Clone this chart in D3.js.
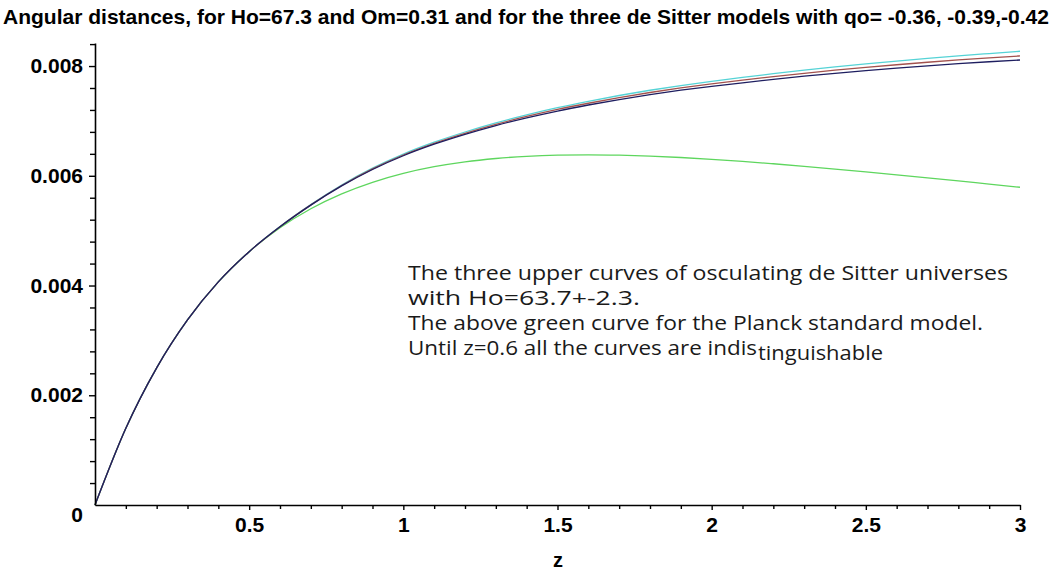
<!DOCTYPE html>
<html>
<head>
<meta charset="utf-8">
<script src="https://cdn.jsdelivr.net/npm/d3@7/dist/d3.min.js"></script>
<style>
  html, body { margin: 0; padding: 0; background: #ffffff; }
  svg { display: block; }
</style>
</head>
<body>
<svg id="chart" width="1055" height="571"></svg>
<script>
// ---------------- data ----------------
const titleText = "Angular distances, for Ho=67.3 and Om=0.31 and for the three de Sitter models with qo= -0.36, -0.39,-0.42";
const xLabel = "z";

const zValues = [0,0.1,0.2,0.3,0.4,0.5,0.6,0.7,0.8,0.9,1.0,1.1,1.2,1.3,1.4,1.5,1.6,1.7,1.8,1.9,2.0,2.1,2.2,2.3,2.4,2.5,2.6,2.7,2.8,2.9,3.0];

// green: Planck standard model
const planck = [0,0.001398,0.002500,0.003373,0.004066,0.004617,0.005053,0.005399,0.005670,0.005881,0.006043,
  0.006165,0.006254,0.006315,0.006355,0.006376,0.006382,0.006375,0.006358,0.006333,0.006300,
  0.006262,0.006219,0.006173,0.006123,0.006071,0.006017,0.005962,0.005906,0.005848,0.005791];

// three osculating de Sitter curves
const deSitterCyan = [0,0.001398,0.002500,0.003373,0.004066,0.004617,0.005074,0.005475,0.005832,0.006139,0.006396,
  0.006612,0.006798,0.006964,0.007110,0.007241,0.007357,0.007463,0.007559,0.007645,0.007721,
  0.007792,0.007860,0.007924,0.007983,0.008038,0.008090,0.008139,0.008185,0.008228,0.008270];
const deSitterBrown = [0,0.001398,0.002500,0.003373,0.004066,0.004617,0.005072,0.005470,0.005823,0.006126,0.006379,
  0.006592,0.006775,0.006938,0.007081,0.007209,0.007322,0.007425,0.007518,0.007601,0.007674,
  0.007742,0.007807,0.007868,0.007924,0.007976,0.008024,0.008069,0.008111,0.008149,0.008184];
const deSitterNavy = [0,0.001398,0.002500,0.003373,0.004066,0.004617,0.005070,0.005465,0.005815,0.006115,0.006365,
  0.006575,0.006755,0.006915,0.007055,0.007180,0.007290,0.007390,0.007480,0.007560,0.007630,
  0.007695,0.007757,0.007815,0.007868,0.007917,0.007962,0.008004,0.008043,0.008078,0.008110];

const xTicks = [0.5,1,1.5,2,2.5,3];
const xTickLabels = ["0.5","1","1.5","2","2.5","3"];
const xMinorTicks = [0.1,0.2,0.3,0.4,0.6,0.7,0.8,0.9,1.1,1.2,1.3,1.4,1.6,1.7,1.8,1.9,2.1,2.2,2.3,2.4,2.6,2.7,2.8,2.9];
const yTicks = [0.002,0.004,0.006,0.008];
const yTickLabels = ["0.002","0.004","0.006","0.008"];
const yMinorTicks = [0.0004,0.0008,0.0012,0.0016,0.0024,0.0028,0.0032,0.0036,0.0044,0.0048,0.0052,0.0056,0.0064,0.0068,0.0072,0.0076,0.0084];

const noteLines = [
  "The three upper curves of osculating de Sitter universes",
  "with Ho=63.7+-2.3.",
  "The above green curve for the Planck standard model.",
  "Until z=0.6 all the curves are indis"
];
const noteTail = "tinguishable";

// ---------------- drawing ----------------
const svg = d3.select("#chart");
const x = d3.scaleLinear().domain([0, 3]).range([95, 1020]);
const y = d3.scaleLinear().domain([0, 0.00842]).range([505, 43]);

const labelFont = "'Liberation Sans', Arial, sans-serif";

// title
svg.append("text")
  .attr("x", 3).attr("y", 24)
  .attr("textLength", 1046).attr("lengthAdjust", "spacingAndGlyphs")
  .style("font-family", labelFont).style("font-weight", "bold").style("font-size", "21px")
  .attr("fill", "#000")
  .text(titleText);

// curves
const series = [
  { values: planck, color: "#5ed65e" },
  { values: deSitterCyan, color: "#55d3d6" },
  { values: deSitterBrown, color: "#a2524e" },
  { values: deSitterNavy, color: "#1e1e60" }
];
const line = d3.line()
  .x((d, i) => x(zValues[i]))
  .y(d => y(d))
  .curve(d3.curveMonotoneX);

svg.append("g").selectAll("path").data(series).join("path")
  .attr("d", s => line(s.values))
  .attr("fill", "none")
  .attr("stroke", s => s.color)
  .attr("stroke-width", 1.3);

// axes
const xAxisG = svg.append("g").attr("transform", "translate(0,505)");
xAxisG.call(d3.axisBottom(x).tickValues(xTicks).tickSize(5).tickSizeOuter(0).tickPadding(7)
  .tickFormat((d, i) => xTickLabels[i]));
const xMinorG = svg.append("g").attr("transform", "translate(0,505)");
xMinorG.call(d3.axisBottom(x).tickValues(xMinorTicks).tickSize(4).tickFormat(""));
xMinorG.select(".domain").remove();

const yAxisG = svg.append("g").attr("transform", "translate(95,0)");
yAxisG.call(d3.axisLeft(y).tickValues(yTicks).tickSize(6).tickSizeOuter(0).tickPadding(6)
  .tickFormat((d, i) => yTickLabels[i]));
const yMinorG = svg.append("g").attr("transform", "translate(95,0)");
yMinorG.call(d3.axisLeft(y).tickValues(yMinorTicks).tickSize(5).tickFormat(""));
yMinorG.select(".domain").remove();

svg.selectAll(".domain").attr("stroke", "#000").attr("stroke-width", 1.6);
svg.selectAll(".tick line").attr("stroke", "#000").attr("stroke-width", 1.4);
svg.selectAll(".tick text")
  .style("font-family", labelFont).style("font-weight", "bold").style("font-size", "21px")
  .attr("fill", "#000");

// origin label
svg.append("text")
  .attr("x", 77).attr("y", 522).attr("text-anchor", "middle")
  .style("font-family", labelFont).style("font-weight", "bold").style("font-size", "21px")
  .text("0");

// x label
svg.append("text")
  .attr("x", 558).attr("y", 567).attr("text-anchor", "middle")
  .style("font-family", labelFont).style("font-weight", "bold").style("font-size", "20px")
  .text(xLabel);

// annotation
const noteFont = "'Open Sans', 'Noto Sans', sans-serif";
const noteWidths = [600, 232, 575, 349];
const noteBase = [280, 305, 330, 355];
noteLines.forEach((t, i) => {
  svg.append("text")
    .attr("x", 408).attr("y", noteBase[i])
    .attr("textLength", noteWidths[i]).attr("lengthAdjust", "spacingAndGlyphs")
    .style("font-family", noteFont).style("font-size", "20px")
    .attr("fill", "#1a1a1a")
    .text(t);
});
svg.append("text")
  .attr("x", 758).attr("y", 360)
  .attr("textLength", 125).attr("lengthAdjust", "spacingAndGlyphs")
  .style("font-family", noteFont).style("font-size", "20px")
  .attr("fill", "#1a1a1a")
  .text(noteTail);
</script>
</body>
</html>
